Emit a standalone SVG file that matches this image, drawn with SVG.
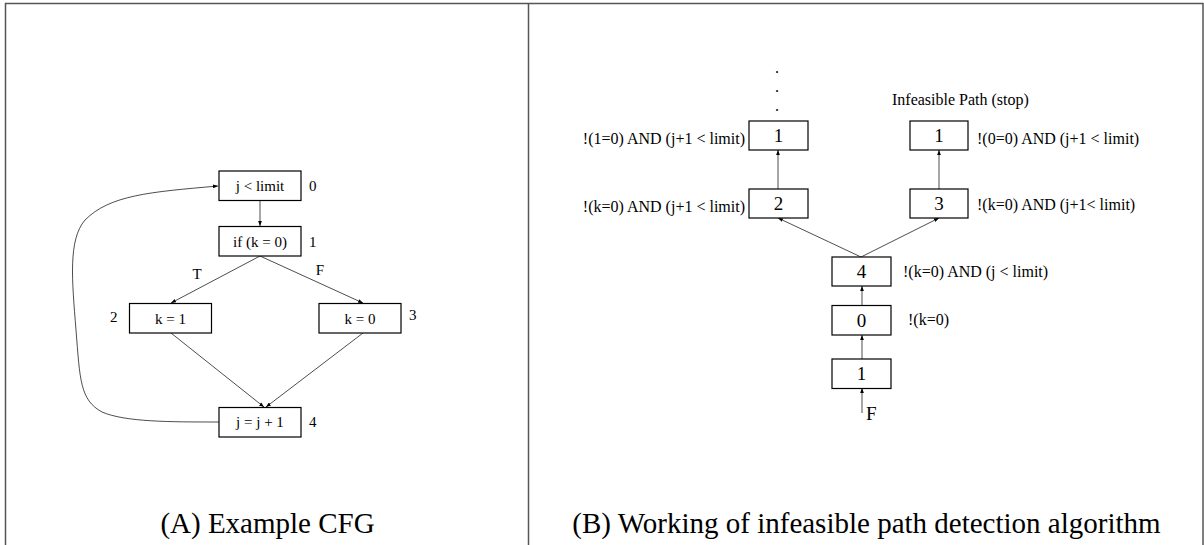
<svg xmlns="http://www.w3.org/2000/svg" width="1204" height="545" viewBox="0 0 1204 545">
<style>
text{font-family:"Liberation Serif","Times New Roman",serif;fill:#000}
.box{fill:#fff;stroke:#000;stroke-width:1.2}
.e{fill:none;stroke:#000;stroke-width:0.7}
.frame{fill:none;stroke:#555;stroke-width:1.5}
.s15{font-size:15px}
.s16{font-size:16px}
.s18{font-size:19px}
.cap{font-size:29px}
.m{text-anchor:middle}
.r{text-anchor:end}
</style>
<defs>
<marker id="ah" viewBox="0 0 8 6" refX="8" refY="3" markerWidth="5" markerHeight="4" orient="auto" markerUnits="userSpaceOnUse">
<path d="M0,0 L8,3 L0,6 z" fill="#000"/>
</marker>
</defs>
<g id="frame">
<path class="frame" d="M5.5,545 V3.5 H1203 V545"/>
<line class="frame" x1="528.5" y1="3.5" x2="528.5" y2="545"/>
</g>
<g id="connectors">
<line class="e" x1="260" y1="200" x2="260" y2="226" marker-end="url(#ah)"/>
<line class="e" x1="260" y1="256" x2="171" y2="303" marker-end="url(#ah)"/>
<line class="e" x1="260" y1="256" x2="363" y2="303" marker-end="url(#ah)"/>
<line class="e" x1="171" y1="333" x2="264" y2="407" marker-end="url(#ah)"/>
<line class="e" x1="363" y1="333" x2="266" y2="407" marker-end="url(#ah)"/>
<path class="e" d="M219,422 C170,422 125,422 102,412 C80,400 80,380 76,330 C72,280 68,240 85,220 C110,195 150,192 218,186" marker-end="url(#ah)"/>
<line class="e" x1="861" y1="257" x2="778" y2="218" marker-end="url(#ah)"/>
<line class="e" x1="861" y1="257" x2="939" y2="218" marker-end="url(#ah)"/>
<line class="e" x1="778" y1="189" x2="778" y2="150" marker-end="url(#ah)"/>
<line class="e" x1="939" y1="189" x2="939" y2="150" marker-end="url(#ah)"/>
<line class="e" x1="862" y1="305" x2="862" y2="286" marker-end="url(#ah)"/>
<line class="e" x1="862" y1="359" x2="862" y2="335" marker-end="url(#ah)"/>
<line class="e" x1="862" y1="413" x2="862" y2="388" marker-end="url(#ah)"/>
</g>
<g id="a-node0"><rect class="box" x="219" y="171" width="82" height="29.5"/><text class="s15 m" x="260" y="191">j &lt; limit</text><text class="s15" x="309" y="191">0</text></g>
<g id="a-node1"><rect class="box" x="219" y="226.5" width="82" height="29.5"/><text class="s15 m" x="260" y="246.5">if (k = 0)</text><text class="s15" x="309" y="247">1</text></g>
<g id="a-node2"><rect class="box" x="129.5" y="303.5" width="82" height="29.5"/><text class="s15 m" x="170.5" y="323.5">k = 1</text><text class="s15" x="110" y="322">2</text></g>
<g id="a-node3"><rect class="box" x="319" y="303.5" width="82" height="29.5"/><text class="s15 m" x="360" y="323.5">k = 0</text><text class="s15" x="409" y="320">3</text></g>
<g id="a-node4"><rect class="box" x="219" y="407.5" width="82" height="29.5"/><text class="s15 m" x="260" y="427">j = j + 1</text><text class="s15" x="309" y="427">4</text></g>
<g id="a-labels"><text class="s15 m" x="197" y="279">T</text><text class="s15 m" x="320" y="275">F</text></g>
<g id="b-node1a"><rect class="box" x="749" y="121" width="59" height="29"/><text class="s18 m" x="778.5" y="142">1</text><text class="s16 r" x="745" y="144">!(1=0) AND (j+1 &lt; limit)</text></g>
<g id="b-dots"><text class="s16 m" x="777" y="73">.</text><text class="s16 m" x="777" y="92">.</text><text class="s16 m" x="777" y="111">.</text></g>
<g id="b-node2"><rect class="box" x="749" y="189" width="59" height="29"/><text class="s18 m" x="778.5" y="210">2</text><text class="s16 r" x="745" y="212">!(k=0) AND (j+1 &lt; limit)</text></g>
<g id="b-node1b"><rect class="box" x="910" y="121" width="58" height="29"/><text class="s18 m" x="939" y="142">1</text><text class="s16" x="977" y="144">!(0=0) AND (j+1 &lt; limit)</text><text class="s16" x="892" y="105">Infeasible Path (stop)</text></g>
<g id="b-node3"><rect class="box" x="910" y="189" width="58" height="29"/><text class="s18 m" x="939" y="210">3</text><text class="s16" x="977" y="210">!(k=0) AND (j+1&lt; limit)</text></g>
<g id="b-node4"><rect class="box" x="832" y="257" width="59" height="29"/><text class="s18 m" x="861.5" y="278">4</text><text class="s16" x="903" y="277">!(k=0) AND (j &lt; limit)</text></g>
<g id="b-node0"><rect class="box" x="832" y="305.5" width="59" height="29.5"/><text class="s18 m" x="861.5" y="327">0</text><text class="s16" x="908" y="325">!(k=0)</text></g>
<g id="b-node1c"><rect class="box" x="832" y="359" width="59" height="29.5"/><text class="s18 m" x="861.5" y="380">1</text></g>
<g id="b-F"><text class="s18" x="866" y="420">F</text></g>
<g id="captions"><text class="cap m" x="267.5" y="533">(A) Example CFG</text><text class="cap m" x="866.5" y="533">(B) Working of infeasible path detection algorithm</text></g>
</svg>
